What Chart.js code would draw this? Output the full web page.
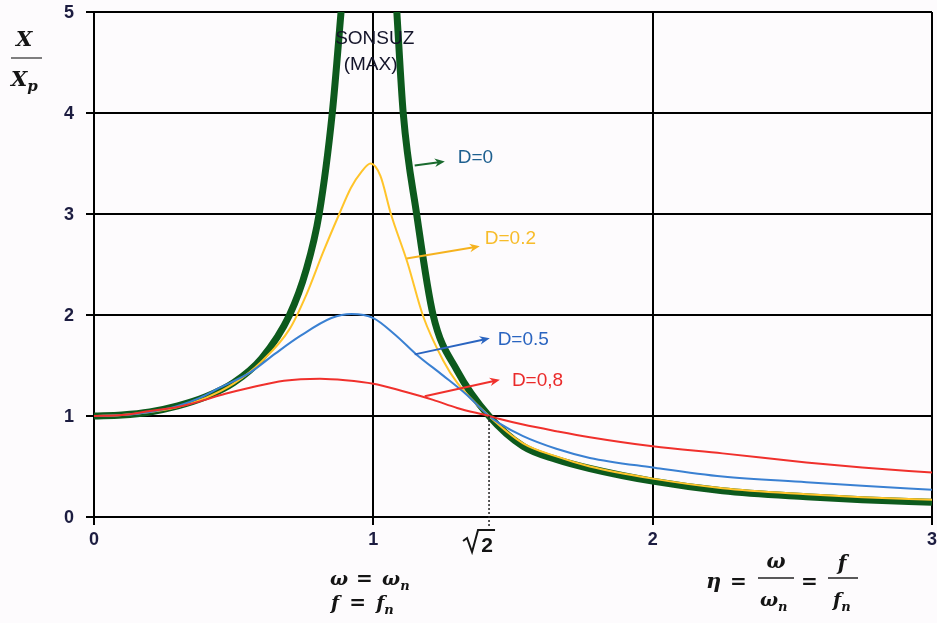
<!DOCTYPE html>
<html>
<head>
<meta charset="utf-8">
<script src="https://cdn.jsdelivr.net/npm/chart.js@4.4.1/dist/chart.umd.min.js"></script>
<style>
  html, body { margin: 0; padding: 0; background: #fdfbfd; }
  #wrap { width: 937px; height: 623px; }
</style>
</head>
<body>
<div id="wrap"><canvas id="chart" width="937" height="623"></canvas></div>
<script>
// frequency ratio (eta) and amplitude ratio X/Xp
var etaD0 = [0, 0.1, 0.2, 0.3, 0.4, 0.5, 0.6, 0.7, 0.76, 0.806, 0.853, 0.886, 1.0,
             1.083, 1.107, 1.155, 1.214, 1.30, 1.414, 1.536, 1.655, 1.775, 2.0, 2.25, 2.55, 2.75, 3.0];
var valD0 = [1.0, 1.01, 1.04, 1.10, 1.19, 1.33, 1.57, 2.0, 2.45, 3.0, 4.0, 5.05, null,
             5.05, 4.0, 3.0, 2.0, 1.45, 1.0, 0.70, 0.57, 0.48, 0.355, 0.26, 0.20, 0.17, 0.145];

var etaD02 = [0, 0.1, 0.2, 0.3, 0.4, 0.5, 0.6, 0.7, 0.76, 0.82, 0.878, 0.92, 0.958, 0.99,
              1.025, 1.063, 1.122, 1.178, 1.25, 1.30, 1.414, 1.536, 1.655, 1.775, 2.0, 2.25, 2.55, 2.75, 3.0];
var valD02 = [1.0, 1.01, 1.04, 1.09, 1.18, 1.32, 1.54, 1.86, 2.20, 2.62, 3.0, 3.26, 3.42, 3.50,
              3.38, 3.0, 2.52, 1.99, 1.55, 1.33, 1.0, 0.73, 0.60, 0.50, 0.38, 0.285, 0.225, 0.195, 0.17];

var etaD05 = [0, 0.1, 0.2, 0.3, 0.379, 0.45, 0.558, 0.65, 0.737, 0.85, 0.922, 1.0, 1.08, 1.154,
              1.25, 1.33, 1.414, 1.45, 1.536, 1.655, 1.775, 2.0, 2.25, 2.55, 2.75, 3.0];
var valD05 = [1.0, 1.01, 1.04, 1.10, 1.18, 1.28, 1.43, 1.62, 1.79, 1.97, 2.01, 1.97, 1.80, 1.61,
              1.40, 1.22, 1.0, 0.93, 0.80, 0.675, 0.585, 0.49, 0.40, 0.345, 0.31, 0.27];

var etaD08 = [0, 0.1, 0.2, 0.3, 0.379, 0.47, 0.558, 0.68, 0.809, 0.9, 1.0, 1.1, 1.214, 1.3,
              1.414, 1.453, 1.536, 1.655, 1.775, 2.0, 2.25, 2.55, 2.75, 3.0];
var valD08 = [1.0, 1.01, 1.05, 1.09, 1.145, 1.22, 1.28, 1.35, 1.37, 1.355, 1.32, 1.25, 1.16, 1.08,
              1.0, 0.97, 0.915, 0.85, 0.79, 0.70, 0.63, 0.54, 0.49, 0.44];

var xTickLabels = ['0', '1', '2', '3'];
var yTickLabels = ['0', '1', '2', '3', '4', '5'];
var seriesLabels = ['D=0', 'D=0.2', 'D=0.5', 'D=0,8'];
var seriesColors = ['#0d5a1d', '#ffc42a', '#3a80d2', '#f0302c'];
var arrowColors = ['#1a6a2e', '#f5b21e', '#2a64c0', '#f0302c'];
var labelColors = ['#1d5f8f', '#f7bc2a', '#2a64c0', '#ea2a2a'];

function pts(xs, ys) {
  return xs.map(function (x, i) { return { x: x, y: ys[i] }; });
}

// arrow start, arrow head, label position (in data units)
var notes = [
  { from: [1.148, 3.48], to: [1.256, 3.52], at: [1.302, 3.56] },
  { from: [1.119, 2.56], to: [1.381, 2.68], at: [1.399, 2.75] },
  { from: [1.148, 1.61], to: [1.417, 1.77], at: [1.445, 1.75] },
  { from: [1.184, 1.195], to: [1.453, 1.36], at: [1.496, 1.35] }
];

function arrow(ctx, x0, y0, x1, y1, color) {
  var a = Math.atan2(y1 - y0, x1 - x0);
  ctx.strokeStyle = color;
  ctx.fillStyle = color;
  ctx.lineWidth = 2;
  ctx.beginPath();
  ctx.moveTo(x0, y0);
  ctx.lineTo(x1 - 6 * Math.cos(a), y1 - 6 * Math.sin(a));
  ctx.stroke();
  ctx.beginPath();
  ctx.moveTo(x1, y1);
  ctx.lineTo(x1 - 11 * Math.cos(a - 0.4), y1 - 11 * Math.sin(a - 0.4));
  ctx.lineTo(x1 - 7 * Math.cos(a), y1 - 7 * Math.sin(a));
  ctx.lineTo(x1 - 11 * Math.cos(a + 0.4), y1 - 11 * Math.sin(a + 0.4));
  ctx.closePath();
  ctx.fill();
}

// text with a subscript; returns end x
function sub(ctx, main, s, x, y, size) {
  ctx.font = 'bold italic ' + size + 'px "DejaVu Serif"';
  ctx.fillText(main, x, y);
  var w = ctx.measureText(main).width;
  ctx.font = 'bold italic ' + Math.round(size * 0.7) + 'px "DejaVu Serif"';
  ctx.fillText(s, x + w, y + size * 0.25);
  return x + w + ctx.measureText(s).width;
}

var extras = {
  id: 'extras',
  afterDraw: function (chart) {
    var ctx = chart.ctx, xs = chart.scales.x, ys = chart.scales.y;
    var X = function (v) { return xs.getPixelForValue(v); };
    var Y = function (v) { return ys.getPixelForValue(v); };
    ctx.save();

    // dotted line at sqrt(2)
    ctx.strokeStyle = '#222';
    ctx.lineWidth = 1.5;
    ctx.setLineDash([2, 2]);
    ctx.beginPath();
    ctx.moveTo(X(Math.SQRT2), Y(1));
    ctx.lineTo(X(Math.SQRT2), Y(0) + 10);
    ctx.stroke();
    ctx.setLineDash([]);

    // tick labels
    ctx.fillStyle = '#1c1c40';
    ctx.font = 'bold 18px "Liberation Sans"';
    ctx.textAlign = 'center';
    ctx.textBaseline = 'middle';
    xTickLabels.forEach(function (t) { ctx.fillText(t, X(+t), 540); });
    ctx.textAlign = 'right';
    yTickLabels.forEach(function (t) { ctx.fillText(t, 74, Y(+t) + 1); });

    // sqrt(2) label
    var sx = X(Math.SQRT2);
    ctx.textAlign = 'center';
    ctx.font = 'bold 21px "Liberation Sans"';
    ctx.fillStyle = '#141414';
    ctx.textBaseline = 'alphabetic';
    ctx.fillText('2', sx - 2, 552);
    ctx.strokeStyle = '#141414';
    ctx.lineWidth = 2;
    ctx.beginPath();
    ctx.moveTo(sx - 26, 541);
    ctx.lineTo(sx - 22, 538);
    ctx.lineTo(sx - 17, 552);
    ctx.lineTo(sx - 11, 530);
    ctx.lineTo(sx + 6, 530);
    ctx.stroke();

    // SONSUZ (MAX)
    ctx.fillStyle = '#14142a';
    ctx.font = '19px "Liberation Sans"';
    ctx.textBaseline = 'middle';
    ctx.fillText('SONSUZ', X(1.005), 39);
    ctx.fillText('(MAX)', X(0.99), 65);

    // D labels with arrows
    ctx.textAlign = 'left';
    notes.forEach(function (n, i) {
      arrow(ctx, X(n.from[0]), Y(n.from[1]), X(n.to[0]), Y(n.to[1]), arrowColors[i]);
      ctx.fillStyle = labelColors[i];
      ctx.font = '19px "Liberation Sans"';
      ctx.fillText(seriesLabels[i], X(n.at[0]), Y(n.at[1]));
    });

    // y axis title X / Xp
    ctx.fillStyle = '#141414';
    ctx.textBaseline = 'alphabetic';
    ctx.textAlign = 'left';
    ctx.font = 'bold italic 21px "DejaVu Serif"';
    ctx.fillText('X', 16, 46);
    ctx.strokeStyle = '#555';
    ctx.lineWidth = 1.5;
    ctx.beginPath(); ctx.moveTo(11, 58); ctx.lineTo(42, 58); ctx.stroke();
    sub(ctx, 'X', 'p', 11, 86, 21);

    // omega = omega_n, f = f_n
    var e = sub(ctx, 'ω', '', 330, 585, 19);
    ctx.font = 'bold 20px "DejaVu Serif"';
    ctx.fillText('=', e + 8, 585);
    sub(ctx, 'ω', 'n', e + 34, 585, 19);
    e = sub(ctx, 'f', '', 331, 609, 19);
    ctx.font = 'bold 20px "DejaVu Serif"';
    ctx.fillText('=', e + 10, 609);
    sub(ctx, 'f', 'n', e + 37, 609, 19);

    // eta = omega/omega_n = f/f_n
    ctx.font = 'bold italic 21px "DejaVu Serif"';
    ctx.fillText('η', 706, 588);
    ctx.font = 'bold 20px "DejaVu Serif"';
    ctx.fillText('=', 730, 588);
    ctx.fillText('=', 801, 588);
    ctx.font = 'bold italic 20px "DejaVu Serif"';
    ctx.textAlign = 'center';
    ctx.fillText('ω', 776, 568);
    ctx.fillText('f', 842, 570);
    ctx.textAlign = 'left';
    sub(ctx, 'ω', 'n', 760, 606, 19);
    sub(ctx, 'f', 'n', 833, 606, 19);
    ctx.strokeStyle = '#222';
    ctx.lineWidth = 1.5;
    ctx.beginPath(); ctx.moveTo(758, 578); ctx.lineTo(794, 578); ctx.stroke();
    ctx.beginPath(); ctx.moveTo(828, 578); ctx.lineTo(858, 578); ctx.stroke();

    ctx.restore();
  }
};

var ctx = document.getElementById('chart').getContext('2d');
var chart = new Chart(ctx, {
  type: 'line',
  data: {
    datasets: [
      { label: seriesLabels[0], data: pts(etaD0, valD0), borderColor: seriesColors[0], borderWidth: 7, order: 4 },
      { label: seriesLabels[1], data: pts(etaD02, valD02), borderColor: seriesColors[1], borderWidth: 2, order: 3 },
      { label: seriesLabels[2], data: pts(etaD05, valD05), borderColor: seriesColors[2], borderWidth: 2, order: 2 },
      { label: seriesLabels[3], data: pts(etaD08, valD08), borderColor: seriesColors[3], borderWidth: 2, order: 1 }
    ].map(function (d) {
      d.pointRadius = 0;
      d.fill = false;
      d.spanGaps = false;
      d.cubicInterpolationMode = 'monotone';
      d.clip = { left: 0, top: 0, right: 0, bottom: 5 };
      return d;
    })
  },
  options: {
    responsive: false,
    animation: false,
    layout: { padding: { top: 12, right: 5, bottom: 98, left: 0 } },
    plugins: { legend: { display: false }, tooltip: { enabled: false } },
    scales: {
      x: {
        type: 'linear', min: 0, max: 3,
        ticks: { stepSize: 1, display: false },
        grid: { color: '#000', lineWidth: 2, tickLength: 8, tickColor: '#000' },
        border: { color: '#000', width: 2 }
      },
      y: {
        min: 0, max: 5,
        ticks: { stepSize: 1, display: false },
        grid: { color: '#000', lineWidth: 2, tickLength: 8, tickColor: '#000' },
        border: { color: '#000', width: 2 },
        afterFit: function (s) { s.width = 94; }
      }
    }
  },
  plugins: [extras]
});
</script>
</body>
</html>
